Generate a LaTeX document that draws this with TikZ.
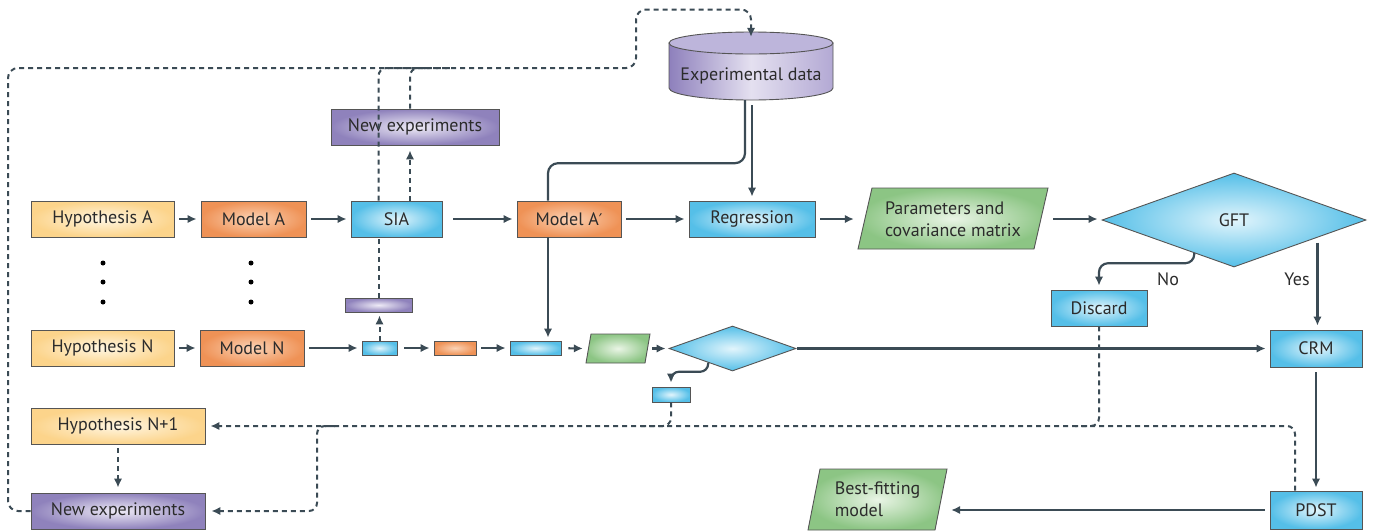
\documentclass[tikz,border=0pt]{standalone}
\usepackage{fontspec}
\setmainfont{PT Sans}
\newfontfamily\dejavu{DejaVu Sans}
\usetikzlibrary{shapes.geometric,arrows.meta,calc}
\definecolor{ln}{HTML}{3B4B55}
\definecolor{bd}{HTML}{555555}
\definecolor{txt}{HTML}{2B2B2B}
\definecolor{yelout}{HTML}{FCD48B}
\definecolor{yelin}{HTML}{FFF6E2}
\definecolor{orout}{HTML}{EF9256}
\definecolor{orin}{HTML}{FBD3B6}
\definecolor{blout}{HTML}{55BFE8}
\definecolor{blin}{HTML}{E2F5FC}
\definecolor{grout}{HTML}{8CC584}
\definecolor{grin}{HTML}{EAF5E6}
\definecolor{puout}{HTML}{8F82BC}
\definecolor{puin}{HTML}{EEEBF6}
\definecolor{cylL}{HTML}{8E80BC}
\definecolor{cylM}{HTML}{E4E0F0}
\definecolor{cylR}{HTML}{B3A9D4}
\definecolor{cylTop}{HTML}{BDB5DB}
\begin{document}
\begin{tikzpicture}[x=1pt,y=-1pt,
  every node/.style={font=\fontsize{18}{22}\selectfont, text=txt},
  bx/.style={draw=bd, line width=0.9pt, minimum height=36, inner sep=0, anchor=center},
  yel/.style={bx, inner color=yelin, outer color=yelout},
  ora/.style={bx, inner color=orin, outer color=orout},
  blu/.style={bx, inner color=blin, outer color=blout},
  pur/.style={bx, inner color=puin, outer color=puout},
  gre/.style={draw=bd, line width=0.9pt, inner color=grin, outer color=grout},
  dia/.style={shape=diamond, draw=bd, line width=0.9pt, inner sep=0, inner color=blin, outer color=blout},
  ghost/.style={inner sep=0, anchor=center},
  dotn/.style={circle, fill=black, inner sep=0, minimum size=5},
  arr/.style={draw=ln, line width=2.2pt, -{Latex[length=9pt,width=8.5pt]}, shorten >=4pt, shorten <=5pt},
  dsh/.style={draw=ln, line width=2pt, dash pattern=on 5pt off 4pt},
  darr/.style={dsh, -{Latex[length=9pt,width=8.5pt]}, shorten >=4pt},
]
\useasboundingbox (0,0) rectangle (1375,531);

% ---- experimental data cylinder ----
\shade[left color=cylL, right color=cylR, middle color=cylM, draw=bd, line width=0.9pt]
  (669,43) -- (669,88) arc[start angle=180, end angle=0, x radius=82, y radius=12] -- (833,43) -- cycle;
\filldraw[fill=cylTop, draw=bd, line width=0.9pt] (751,43) ellipse [x radius=82, y radius=11];
\node[ghost, minimum width=164, minimum height=68] (data) at (751,66) {};
\node (dataT) at (751,76) {Experimental data};

% ---- parallelograms ----
\shade[gre] (858,249) -- (1034,249) -- (1048,188) -- (872,188) -- cycle;
\node[ghost, minimum width=190, minimum height=61, align=left] (par) at (953,219) {Parameters and\\covariance matrix};
\shade[gre] (808,530) -- (935,530) -- (947,469) -- (820,469) -- cycle;
\node[ghost, minimum width=139, minimum height=61, align=left] (best) at (877.5,499.5) {Best-fitting\\model};
\shade[gre] (586,363) -- (645,363) -- (650,334) -- (591,334) -- cycle;
\node[ghost, minimum width=64, minimum height=29] (g1) at (618,348.5) {};

% ---- boxes ----
\node[yel, minimum width=143] (hA) at (102.5,219) {Hypothesis A};
\node[ora, minimum width=105] (mA) at (253.5,219) {Model A};
\node[blu, minimum width=91] (sia) at (396.5,219) {SIA};
\node[ora, minimum width=104] (mA2) at (569,219) {Model A{\dejavu\fontsize{16}{20}\selectfont ′}};
\node[blu, minimum width=126] (reg) at (752,219) {Regression};
\node[dia, minimum width=264, minimum height=94] (gft) at (1234,220) {GFT};
\node[blu, minimum width=96] (disc) at (1099,308) {Discard};
\node[blu, minimum width=92, minimum height=37] (crm) at (1316,348.5) {CRM};
\node[blu, minimum width=92, minimum height=38] (pdst) at (1316,510) {PDST};

\node[yel, minimum width=143] (hN) at (102.5,348) {Hypothesis N};
\node[ora, minimum width=104] (mN) at (252,348) {Model N};
\node[blu, minimum width=35, minimum height=14] (b1) at (379.5,348) {};
\node[ora, minimum width=42, minimum height=14] (o1) at (455,348) {};
\node[blu, minimum width=51, minimum height=14] (b2) at (535.5,348) {};
\node[dia, minimum width=127, minimum height=45] (d1) at (732.5,348.5) {};
\node[blu, minimum width=38, minimum height=15] (b3) at (671,394.5) {};
\node[pur, minimum width=67, minimum height=14] (p1) at (378.5,305) {};
\node[pur, minimum width=168] (ne1) at (415,127) {New experiments};
\node[yel, minimum width=174] (hN1) at (118,426) {Hypothesis N+1};
\node[pur, minimum width=174] (ne2) at (118,511) {New experiments};

% dots
\foreach \y [count=\i] in {263,282,302}{
  \node[dotn] (dl\i) at (103,\y) {};
  \node[dotn] (dr\i) at (251,\y) {};
}

% labels
\node (no) at (1168,279) {No};
\node (yes) at (1297,279) {Yes};

% ---- solid connectors ----
\draw[arr] (hA) -- (mA);
\draw[arr] (mA) -- (sia);
\draw[arr, shorten <=11pt] (sia) -- (mA2);
\draw[arr] (mA2) -- (reg);
\draw[arr] (reg.east) -- (par.west);
\draw[arr] (par.east) -- (par.east -| gft.west);
\draw[arr, shorten <=5pt] (reg.north |- data.south) -- (reg.north);
\draw[draw=ln, line width=2.2pt, rounded corners=10pt] ([xshift=-6pt]data.south) -- ([xshift=-6pt,yshift=-63pt]data.south) -| ([xshift=-21pt]mA2.north);
\draw[arr, shorten <=0pt, shorten >=3pt] ([xshift=-21pt]mA2.south) -- ([xshift=-21pt]mA2.south |- b2.north);

\coordinate (gno) at ($(gft.south)!0.3!(gft.west)$);
\draw[arr, shorten <=0pt, rounded corners=9pt] (gno) -- ++(0,10) -| (disc.north);
\coordinate (gyes) at ($(gft.south)!0.63!(gft.east)$);
\draw[arr, shorten <=5pt] (gyes) -- (gyes |- crm.north);

\draw[arr] (hN) -- (mN);
\draw[arr] (mN) -- (b1);
\draw[arr, shorten <=7pt] (b1) -- (o1);
\draw[arr] (o1) -- (b2);
\draw[arr, shorten <=7pt, shorten >=3pt] (b2) -- (g1.west);
\draw[arr, shorten <=2pt, shorten >=3pt] (g1.east) -- (d1.west);
\draw[arr, shorten <=1pt] (d1.east) -- (crm.west);
\coordinate (dlo) at ($(d1.south)!0.38!(d1.west)$);
\draw[arr, shorten <=0pt, rounded corners=8pt] (dlo) -- ++(0,9) -| (b3.north);
\draw[arr, shorten >=3pt] (crm.south) -- (pdst.north);
\draw[arr] (pdst.west) -- (pdst.west -| best.east);

% ---- dashed connectors ----
\draw[darr, shorten <=0pt, shorten >=3pt] (b1.north) -- (b1.north |- p1.south);
\draw[dsh] (p1.north) -- (p1.north |- sia.south);
\draw[darr, shorten >=5pt] ([xshift=13.5pt]sia.north) -- ([xshift=13.5pt]sia.north |- ne1.south);
\coordinate (tl) at (8,68);
\coordinate (tm) at (636,68);
\coordinate (tt) at (636,9.5);
\draw[dsh, rounded corners=8pt] (p1.north |- sia.north) |- (430,68);
\draw[dsh, rounded corners=8pt] ([xshift=-5pt]ne1.north) |- (450,68);
\draw[darr, rounded corners=10pt] (ne2.west) -| (tl) -- (tm) -- (tt) -| ([yshift=-9pt]data.north);

\draw[darr, rounded corners=8pt, shorten >=5pt] ([xshift=-21pt]pdst.north) |- (hN1.east);
\draw[dsh, rounded corners=8pt] (b3.south) |- (640,426);
\draw[dsh, rounded corners=8pt] (disc.south) |- (1075,426);
\coordinate (br) at (335,426);
\draw[darr, rounded corners=8pt, shorten >=6pt] (br) -| (317,470) |- (ne2.east);
\draw[darr, shorten <=4pt, shorten >=5pt] (hN1.south) -- (ne2.north);
\end{tikzpicture}
\end{document}
